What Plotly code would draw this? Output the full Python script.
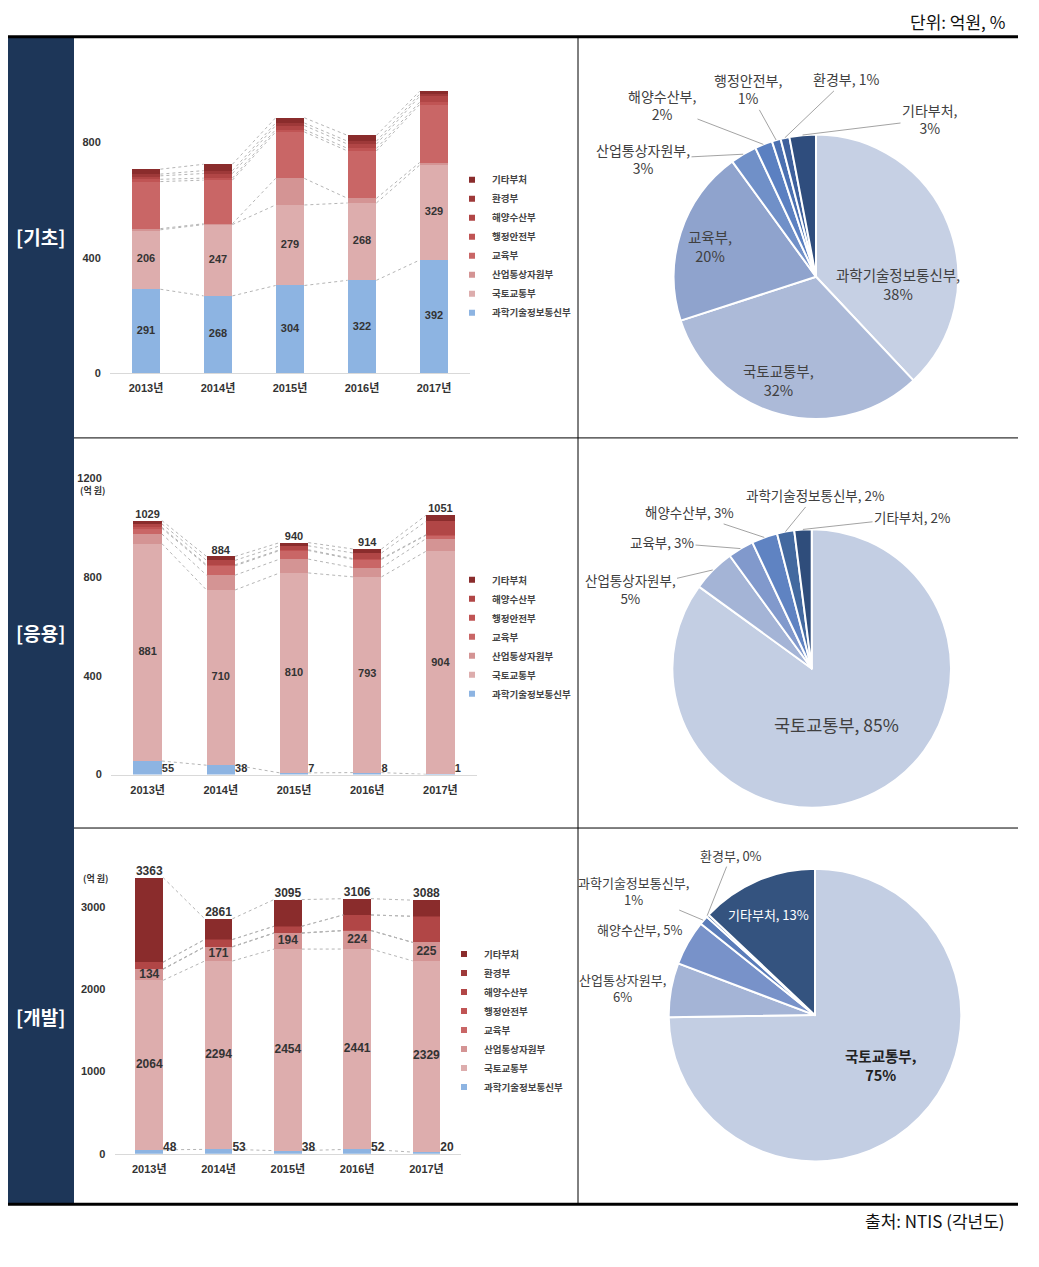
import math
import plotly.graph_objects as go

# page has an 8px body margin; the figure is sized to fit inside the 1039x1267 window
OFF = 8
W, H = 1039 - 2 * OFF, 1267 - 2 * OFF - 8

years = ["2013년", "2014년", "2015년", "2016년", "2017년"]

# ---------------- 기초 (억원) ----------------
basic_names = ["과학기술정보통신부", "국토교통부", "산업통상자원부", "교육부",
               "행정안전부", "해양수산부", "환경부", "기타부처"]
basic_msit = [291, 268, 304, 322, 392]
basic_molit = [206, 247, 279, 268, 329]
basic_motie = [4, 3, 92, 16, 9]
basic_moe = [163, 151, 161, 164, 201]
basic_mois = [8, 7, 8, 9, 8]
basic_mof = [12, 16, 14, 15, 20]
basic_me = [6, 10, 9, 10, 8]
basic_etc = [17, 22, 18, 20, 10]

# ---------------- 응용 (억원) ----------------
applied_names = ["과학기술정보통신부", "국토교통부", "산업통상자원부", "교육부",
                 "행정안전부", "해양수산부", "기타부처"]
applied_msit = [55, 38, 7, 8, 1]
applied_molit = [881, 710, 810, 793, 904]
applied_motie = [39, 60, 56, 38, 51]
applied_moe = [23, 38, 35, 33, 14]
applied_mois = [4, 4, 3, 3, 2]
applied_mof = [14, 18, 16, 23, 54]
applied_etc = [13, 16, 13, 16, 25]

# ---------------- 개발 (억원) ----------------
dev_names = ["과학기술정보통신부", "국토교통부", "산업통상자원부", "교육부",
             "행정안전부", "해양수산부", "환경부", "기타부처"]
dev_msit = [48, 53, 38, 52, 20]
dev_molit = [2064, 2294, 2454, 2441, 2329]
dev_motie = [134, 171, 194, 224, 225]
dev_moe = [3, 2, 2, 1, 0]
dev_mois = [2, 2, 2, 1, 0]
dev_mof = [80, 86, 79, 188, 317]
dev_me = [4, 2, 2, 2, 1]
dev_etc = [1028, 251, 324, 197, 196]

# ---------------- pies (%) ----------------
basic_pie_names = ["과학기술정보통신부", "국토교통부", "교육부", "산업통상자원부",
                   "해양수산부", "행정안전부", "환경부", "기타부처"]
basic_pie_pct = [38, 32, 20, 3, 2, 1, 1, 3]
applied_pie_names = ["국토교통부", "산업통상자원부", "교육부", "해양수산부",
                     "과학기술정보통신부", "기타부처"]
applied_pie_pct = [85, 5, 3, 3, 2, 2]
dev_pie_names = ["국토교통부", "산업통상자원부", "해양수산부",
                 "과학기술정보통신부", "환경부", "기타부처"]
dev_pie_pct = [75, 6, 5, 1, 0.3, 13]

# ---------------- styles ----------------
BAR_COLORS = {
    "과학기술정보통신부": "#8db4e2",
    "국토교통부": "#ddadad",
    "산업통상자원부": "#d49494",
    "교육부": "#c96666",
    "행정안전부": "#c05454",
    "해양수산부": "#b14646",
    "환경부": "#9e3939",
    "기타부처": "#8a2c2c",
}
KR = "Noto Sans CJK KR"
NUM = "Liberation Sans, Noto Sans CJK KR"
TXT = "#333333"


def xp(px):
    return (px - OFF) / W


def yp(py):
    return 1 - (py - OFF) / H


fig = go.Figure()


def bar_chart(n, names, series, xdom, ybot, ytop, ymax, yticks, bw,
              inside, right_label, totals, nsize, legend_name):
    xa = "x" if n == 1 else f"x{n}"
    ya = "y" if n == 1 else f"y{n}"
    xs = list(range(len(years)))
    # dotted connectors between stacked boundaries
    cx, cy = [], []
    tops = [0] * len(xs)
    cum_tops = []
    for vals in series:
        tops = [t + v for t, v in zip(tops, vals)]
        cum_tops.append(tops[:])
    for tops_k in cum_tops:
        for i in range(len(xs) - 1):
            cx += [xs[i] + bw / 2, xs[i + 1] - bw / 2, None]
            cy += [tops_k[i], tops_k[i + 1], None]
    fig.add_trace(go.Scatter(x=cx, y=cy, mode="lines", xaxis=xa, yaxis=ya,
                             line=dict(color="#b5b5b5", width=1, dash="dot"),
                             hoverinfo="skip", showlegend=False))
    for name, vals in zip(names, series):
        fig.add_trace(go.Bar(x=xs, y=vals, name=name, width=bw,
                             marker=dict(color=BAR_COLORS[name], line=dict(width=0)),
                             xaxis=xa, yaxis=ya, showlegend=False))
    # inside labels (segment midpoints)
    bottoms = [0] * len(xs)
    for name, vals in zip(names, series):
        if name in inside:
            fig.add_trace(go.Scatter(
                x=xs, y=[b + v / 2 for b, v in zip(bottoms, vals)],
                text=[str(v) for v in vals], mode="text", textposition="middle center",
                textfont=dict(family=NUM, size=nsize, color=TXT, weight="bold"),
                xaxis=xa, yaxis=ya, showlegend=False, hoverinfo="skip", cliponaxis=False))
        if name == right_label:
            fig.add_trace(go.Scatter(
                x=[x + bw / 2 for x in xs], y=[0] * len(xs),
                text=[str(v) for v in vals], mode="text", textposition="top right",
                textfont=dict(family=NUM, size=nsize, color=TXT, weight="bold"),
                xaxis=xa, yaxis=ya, showlegend=False, hoverinfo="skip", cliponaxis=False))
        bottoms = [b + v for b, v in zip(bottoms, vals)]
    if totals:
        fig.add_trace(go.Scatter(
            x=xs, y=bottoms, text=[str(t) for t in bottoms], mode="text",
            textposition="top center",
            textfont=dict(family=NUM, size=nsize, color=TXT, weight="bold"),
            xaxis=xa, yaxis=ya, showlegend=False, hoverinfo="skip", cliponaxis=False))
    # legend entries (small squares), top = last series
    for name in reversed(names):
        fig.add_trace(go.Scatter(
            x=[None], y=[None], mode="markers", name=name,
            marker=dict(symbol="square", size=6, color=BAR_COLORS[name]),
            xaxis=xa, yaxis=ya, legend=legend_name, showlegend=True))
    xkey = "xaxis" if n == 1 else f"xaxis{n}"
    ykey = "yaxis" if n == 1 else f"yaxis{n}"
    fig.update_layout({
        xkey: dict(domain=[xp(xdom[0]), xp(xdom[1])], range=[-0.5, len(xs) - 0.5],
                   tickvals=xs, ticktext=years, showline=True, linecolor="#d9d9d9",
                   linewidth=1, ticks="outside", ticklen=5, tickcolor="rgba(0,0,0,0)",
                   showgrid=False, zeroline=False, anchor=ya,
                   tickfont=dict(family=NUM, size=11, color=TXT, weight="bold")),
        ykey: dict(domain=[yp(ybot), yp(ytop)], range=[0, ymax], tickvals=yticks,
                   showline=False, showgrid=False, zeroline=False, anchor=xa,
                   ticks="outside", ticklen=6, tickcolor="rgba(0,0,0,0)",
                   tickfont=dict(family=NUM, size=11, color=TXT, weight="bold")),
    })


bar_chart(1, basic_names,
          [basic_msit, basic_molit, basic_motie, basic_moe, basic_mois, basic_mof, basic_me, basic_etc],
          (110, 470), 375, 56, 1100, [0, 400, 800], 0.4,
          ["과학기술정보통신부", "국토교통부"], None, False, 11, "legend")
bar_chart(2, applied_names,
          [applied_msit, applied_molit, applied_motie, applied_moe, applied_mois, applied_mof, applied_etc],
          (111, 477), 778.3, 468.3, 1250, [0, 400, 800, 1200], 0.39,
          ["국토교통부"], "과학기술정보통신부", True, 11, "legend2")
bar_chart(3, dev_names,
          [dev_msit, dev_molit, dev_motie, dev_moe, dev_mois, dev_mof, dev_me, dev_etc],
          (114.6, 461.1), 1159.3, 870.5, 3500, [0, 1000, 2000, 3000], 0.4,
          ["국토교통부", "산업통상자원부"], "과학기술정보통신부", True, 12, "legend3")

annotations = []


def note(px, py, text, font, **kw):
    d = dict(x=xp(px), y=yp(py), xref="paper", yref="paper", text=text,
             showarrow=False, font=font, xanchor="center", yanchor="middle", align="center")
    d.update(kw)
    annotations.append(d)


def pie_chart(names, pcts, colors, box, spec):
    x0, x1, y0, y1 = box
    fig.add_trace(go.Pie(labels=names, values=pcts, sort=False, direction="clockwise",
                         rotation=0, textinfo="none", showlegend=False,
                         marker=dict(colors=colors, line=dict(color="white", width=2)),
                         domain=dict(x=[xp(x0), xp(x1)], y=[yp(y1), yp(y0)])))
    cxp, cyp = (x0 + x1) / 2, (y0 + y1) / 2
    r = min(x1 - x0, y1 - y0) / 2
    total = sum(pcts)
    cum = 0
    for name, v in zip(names, pcts):
        ang = 2 * math.pi * (cum + v / 2) / total
        cum += v
        lx, ly, br, leader, size, color, bold = spec[name]
        sep = ",<br>" if br else ", "
        text = f"{name}{sep}{round(v)}%"
        font = dict(family=KR, size=size, color=color, weight="bold" if bold else "normal")
        if leader:
            ex = cxp + r * math.sin(ang)
            ey = cyp - r * math.cos(ang)
            annotations.append(dict(x=xp(ex), y=yp(ey), xref="paper", yref="paper",
                                    text=text, showarrow=True, arrowhead=0, arrowwidth=0.8,
                                    arrowcolor="#8c8c8c", ax=lx - ex, ay=ly - ey,
                                    xanchor="center", yanchor="middle",
                                    font=font, align="center"))
        else:
            note(lx, ly, text, font)


G = "#404040"
pie_chart(basic_pie_names, basic_pie_pct,
          ["#c6d0e4", "#acbad8", "#8fa3cd", "#7090c8", "#5b80c1", "#4b70b1", "#3e609c", "#2f4d7d"],
          (673, 959, 135, 421),
          {"과학기술정보통신부": (898, 285, True, False, 14.5, G, False),
           "국토교통부": (778, 382, True, False, 14.5, G, False),
           "교육부": (710, 247, True, False, 14.5, G, False),
           "산업통상자원부": (643, 160, True, True, 14, G, False),
           "해양수산부": (662, 106, True, True, 14, G, False),
           "행정안전부": (748, 90, True, True, 14, G, False),
           "환경부": (846, 80, False, True, 14, G, False),
           "기타부처": (930, 120, True, True, 14, G, False)})
pie_chart(applied_pie_names, applied_pie_pct,
          ["#c3cee3", "#a4b4d6", "#8199cc", "#5f83c2", "#43699f", "#2f4d7b"],
          (671.7, 951.7, 531.7, 811.7),
          {"국토교통부": (836, 728, False, False, 17.5, G, False),
           "산업통상자원부": (630, 592, True, True, 13.5, G, False),
           "교육부": (662, 545, False, True, 13.5, G, False),
           "해양수산부": (689, 515, False, True, 13.5, G, False),
           "과학기술정보통신부": (815, 498, False, True, 13.5, G, False),
           "기타부처": (912, 520, False, True, 13.5, G, False)})
pie_chart(dev_pie_names, dev_pie_pct,
          ["#c3cee3", "#a4b4d6", "#7892c9", "#5a7cb9", "#46699f", "#34537f"],
          (668, 962, 873, 1167),
          {"국토교통부": (880, 1070, True, False, 14.5, "#222222", True),
           "산업통상자원부": (622, 993, True, False, 13, G, False),
           "해양수산부": (640, 934, False, False, 13, G, False),
           "과학기술정보통신부": (633, 895, True, True, 13, G, False),
           "환경부": (731, 860, False, True, 13, G, False),
           "기타부처": (768, 919, False, False, 13, "white", False)})

# section labels and notes
for lab, y in [("[기초]", 238), ("[응용]", 636), ("[개발]", 1021)]:
    note(40, y, lab, dict(family=KR, size=19, color="white", weight="bold"))
note(1007, 22, "단위: 억원, %", dict(family=KR, size=17, color="#111"), xanchor="right")
note(1007, 1226, "출처: NTIS (각년도)", dict(family=KR, size=17, color="#111"), xanchor="right")
note(92, 493, "(억 원)", dict(family=KR, size=9, color=TXT, weight="bold"))
note(95, 883, "(억 원)", dict(family=KR, size=9, color=TXT, weight="bold"))

shapes = [
    dict(type="rect", xref="paper", yref="paper", x0=xp(5), x1=xp(74), y0=yp(1210), y1=yp(38),
         fillcolor="#1d3658", line=dict(width=0), layer="below"),
    dict(type="line", xref="paper", yref="paper", x0=xp(5), x1=xp(1018), y0=yp(37), y1=yp(37),
         line=dict(color="black", width=3)),
    dict(type="line", xref="paper", yref="paper", x0=xp(5), x1=xp(1018), y0=yp(1210), y1=yp(1210),
         line=dict(color="black", width=3)),
    dict(type="line", xref="paper", yref="paper", x0=xp(578), x1=xp(578), y0=yp(38), y1=yp(1209),
         line=dict(color="black", width=1)),
    dict(type="line", xref="paper", yref="paper", x0=xp(74), x1=xp(1018), y0=yp(440), y1=yp(440),
         line=dict(color="black", width=1)),
    dict(type="line", xref="paper", yref="paper", x0=xp(74), x1=xp(1018), y0=yp(832), y1=yp(832),
         line=dict(color="black", width=1)),
]

legend_common = dict(xanchor="left", yanchor="top", bgcolor="rgba(0,0,0,0)", borderwidth=0,
                     itemwidth=30, traceorder="normal", tracegroupgap=0,
                     font=dict(family=KR, size=9.5, color="#444", weight="bold"),
                     itemclick=False, itemdoubleclick=False)

fig.update_layout(
    width=W, height=H, autosize=False,
    margin=dict(l=0, r=0, t=0, b=0),
    paper_bgcolor="white", plot_bgcolor="rgba(0,0,0,0)",
    barmode="stack",
    annotations=annotations, shapes=shapes,
    legend=dict(x=xp(452), y=yp(166), **legend_common),
    legend2=dict(x=xp(452), y=yp(568), **legend_common),
    legend3=dict(x=xp(444), y=yp(944), **legend_common),
    font=dict(family=KR),
)

fig.write_html("out.html")
